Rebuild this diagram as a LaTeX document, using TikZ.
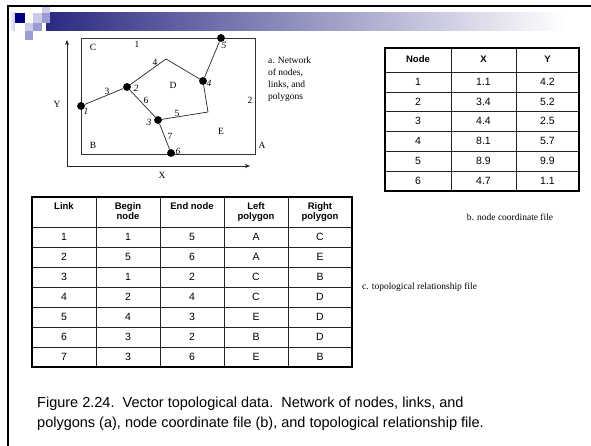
\documentclass[tikz,border=0pt]{standalone}
\usepackage{fontspec}
\setmainfont{Liberation Serif}
\setsansfont{Liberation Sans}
\usetikzlibrary{arrows.meta}
\definecolor{navy}{HTML}{000080}
\definecolor{barnavy}{HTML}{2A2A82}
\definecolor{lavA}{HTML}{CACAEA}
\definecolor{lavB}{HTML}{9C9CD2}
\definecolor{gridc}{HTML}{222222}
\tikzset{
  serif/.style={font=\fontsize{9.5}{12}\selectfont\rmfamily, inner sep=0pt},
  nodelbl/.style={font=\fontsize{9.5}{12}\selectfont\rmfamily\itshape, inner sep=0pt},
  dotnode/.style={circle, fill=black, minimum size=7.5pt, inner sep=0pt},
  linkline/.style={draw=black!85, line width=0.7pt},
  axisline/.style={draw=black!85, line width=0.7pt, -{Stealth[length=5pt,width=4pt]}},
  cellt/.style={font=\fontsize{10.5}{12}\selectfont\sffamily, inner sep=0pt},
  hcell/.style={font=\fontsize{9.5}{10.5}\selectfont\sffamily\bfseries, inner sep=0pt, align=center},
  gridline/.style={draw=gridc, line width=0.8pt},
  outerline/.style={draw=black, line width=1.6pt},
  figcap/.style={font=\fontsize{14.5}{17}\selectfont\sffamily, inner sep=0pt, anchor=base west}
}
\begin{document}
\begin{tikzpicture}[x=1pt,y=-1pt]
\useasboundingbox (0,0) rectangle (591,446);
\fill[white] (0,0) rectangle (591,446);
% header decoration
\shade[left color=barnavy, right color=white] (46,13) rectangle (565,31);
\fill[white] (565,13) rectangle (591,31);
\shade[left color=white, right color=lavA] (9,13) rectangle (15,31);
\fill[lavA] (42,5) rectangle (50,13);
\fill[navy] (15,13) rectangle (25,23);
\fill[white] (25,13) rectangle (33,23);
\fill[lavA] (33,13) rectangle (42,23);
\fill[lavB] (42,13) rectangle (50,23);
\fill[white] (15,23) rectangle (25,31);
\fill[lavA] (25,23) rectangle (33,31);
\fill[lavB] (33,23) rectangle (42,31);
\fill[lavB] (25,31) rectangle (33,40);
\draw[line width=2pt] (8,446) -- (8,6) -- (591,6);

% ---- diagram a ----
\coordinate (o) at (67,166);
\coordinate (ytip) at (67,40);
\coordinate (xtip) at (250,166);
\draw[axisline] (o) -- (ytip);
\draw[axisline] (o) -- (xtip);
\node[serif] (ylab) at (57,104) {Y};
\node[serif] (xlab) at (162,175) {X};
\draw[draw=black!80, line width=0.8pt] (81,38) rectangle (255,154);
\node[dotnode] (n1) at (81,106) {};
\node[dotnode] (n2) at (127,87) {};
\node[dotnode] (n3) at (158,120) {};
\node[dotnode] (n4) at (203,81) {};
\node[dotnode] (n5) at (221,38) {};
\node[dotnode] (n6) at (171,153) {};
\coordinate (pt) at (166,59);
\coordinate (pbr) at (208,112);
\draw[linkline] (n1) -- (n2);
\draw[linkline] (n2.center) -- (pt) -- (n4.center);
\draw[linkline] (n4) -- (n5);
\draw[linkline] (n4.center) -- (pbr) -- (n3.center);
\draw[linkline] (n3) -- (n2);
\draw[linkline] (n3) -- (n6);
\node[dotnode] at (n1) {};
\node[dotnode] at (n2) {};
\node[dotnode] at (n3) {};
\node[dotnode] at (n4) {};
\node[dotnode] at (n5) {};
\node[dotnode] at (n6) {};
% node numbers
\node[nodelbl] (l1) at (86,111) {1};
\node[nodelbl] (l2) at (136,88) {2};
\node[nodelbl] (l3) at (149,122) {3};
\node[nodelbl] (l4) at (209,83) {4};
\node[nodelbl] (l5) at (224,45) {5};
\node[nodelbl] (l6) at (178,151) {6};
% link numbers
\node[serif] (k1) at (137,44) {1};
\node[serif] (k2) at (250,100) {2};
\node[serif] (k3) at (107,91) {3};
\node[serif] (k4) at (155,62) {4};
\node[serif] (k5) at (177,113) {5};
\node[serif] (k6) at (146,100) {6};
\node[serif] (k7) at (170,136) {7};
% polygons
\node[serif] (pC) at (93,47) {C};
\node[serif] (pD) at (173,85) {D};
\node[serif] (pB) at (93,145) {B};
\node[serif] (pE) at (221,131) {E};
\node[serif] (pA) at (262,145) {A};
\node[serif, anchor=north west, align=left, font=\fontsize{9.5}{12}\selectfont\rmfamily] (capa) at (268,57) {a. Network\\of nodes,\\links, and\\polygons};

% ---- table b ----
\foreach \y in {72,92,111,131,151,171} \draw[gridline] (385,\y) -- (579,\y);
\foreach \x in {451,516} \draw[gridline] (\x,48) -- (\x,191);
\draw[outerline] (385,48) rectangle (579,191);
\node[hcell] (bh1) at (418,59.5) {Node};
\node[hcell] (bh2) at (483.5,59.5) {X};
\node[hcell] (bh3) at (547.5,59.5) {Y};
\foreach \i/\yy/\a/\b in {1/82/1.1/4.2, 2/101.5/3.4/5.2, 3/121/4.4/2.5, 4/141/8.1/5.7, 5/161/8.9/9.9, 6/181/4.7/1.1}{
  \node[cellt] (bn\i) at (418,\yy) {\i};
  \node[cellt] (bx\i) at (483.5,\yy) {\a};
  \node[cellt] (by\i) at (547.5,\yy) {\b};
}
\node[serif] (capb) at (510,217) {b. node coordinate file};

% ---- table c ----
\foreach \y in {227,247,267,287,307,327,347} \draw[gridline] (32,\y) -- (352,\y);
\foreach \x in {96,160,224,288} \draw[gridline] (\x,197) -- (\x,367);
\draw[outerline] (32,197) rectangle (352,367);
\node[hcell, anchor=north] (ch1) at (64,202) {Link};
\node[hcell, anchor=north] (ch2) at (128,202) {Begin\\node};
\node[hcell, anchor=north] (ch3) at (192,202) {End node};
\node[hcell, anchor=north] (ch4) at (256,202) {Left\\polygon};
\node[hcell, anchor=north] (ch5) at (320,202) {Right\\polygon};
\foreach \i/\yy/\a/\b/\c/\d in {1/237/1/5/A/C, 2/257/5/6/A/E, 3/277/1/2/C/B, 4/297/2/4/C/D, 5/317/4/3/E/D, 6/337/3/2/B/D, 7/357/3/6/E/B}{
  \node[cellt] (cl\i) at (64,\yy) {\i};
  \node[cellt] (cb\i) at (128,\yy) {\a};
  \node[cellt] (ce\i) at (192,\yy) {\b};
  \node[cellt] (cL\i) at (256,\yy) {\c};
  \node[cellt] (cR\i) at (320,\yy) {\d};
}
\node[serif, anchor=west] (capc) at (362,287) {c. topological relationship file};

% ---- caption ----
\node[figcap] (f1) at (37,407) {Figure 2.24.\ \ Vector topological data.\ \ Network of nodes, links, and};
\node[figcap] (f2) at (37,427) {polygons (a), node coordinate file (b), and topological relationship file.};
\end{tikzpicture}
\end{document}
